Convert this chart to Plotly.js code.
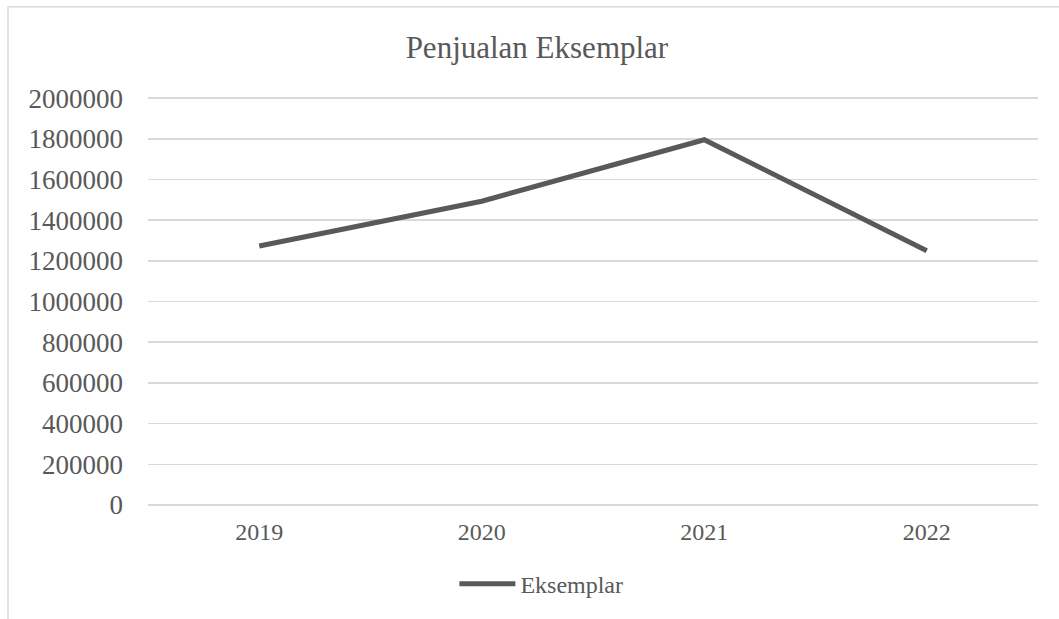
<!DOCTYPE html>
<html>
<head>
<meta charset="utf-8">
<script src="https://cdn.plot.ly/plotly-3.0.1.min.js"></script>
<style>
html,body{margin:0;padding:0;background:#fff;}
#chart{width:1059px;height:619px;}
</style>
</head>
<body>
<div id="chart"></div>
<script>
const years = ["2019", "2020", "2021", "2022"];
const eksemplar = [1273000, 1493000, 1795000, 1250000];
const yTicks = [0, 200000, 400000, 600000, 800000, 1000000, 1200000, 1400000, 1600000, 1800000, 2000000];
const seriesName = "Eksemplar";
const chartTitle = "Penjualan Eksemplar";

const grey = "#595959";
const grid = "#d9d9d9";
const serif = "Liberation Serif, Times New Roman, serif";

const trace = {
  type: "scatter",
  mode: "lines",
  x: years,
  y: eksemplar,
  name: seriesName,
  line: {color: grey, width: 5},
  showlegend: true
};

const layout = {
  width: 1059,
  height: 619,
  margin: {l: 148, r: 21, t: 95, b: 110},
  paper_bgcolor: "#fff",
  plot_bgcolor: "#fff",
  font: {family: serif, color: grey},
  title: {
    text: chartTitle,
    font: {family: serif, size: 31, color: grey},
    x: 0.507, xref: "container", xanchor: "center",
    y: 0.924, yref: "container", yanchor: "middle"
  },
  xaxis: {
    type: "category",
    range: [-0.5, 3.5],
    showgrid: false,
    showline: false,
    zeroline: false,
    ticks: "",
    tickfont: {family: serif, size: 24, color: grey},
    ticklabelstandoff: 10,
    fixedrange: true
  },
  yaxis: {
    range: [0, 2015000],
    tickvals: yTicks,
    ticktext: yTicks.map(v => String(v)),
    showgrid: true,
    gridcolor: grid,
    gridwidth: 1.5,
    zeroline: true,
    zerolinecolor: grid,
    zerolinewidth: 1.5,
    showline: false,
    ticks: "",
    tickfont: {family: serif, size: 27, color: grey},
    ticklabelstandoff: 24,
    fixedrange: true
  },
  legend: {
    orientation: "h",
    x: 0.442, xanchor: "center",
    y: -0.193, yanchor: "middle",
    font: {family: serif, size: 24, color: grey},
    itemwidth: 56
  },
  shapes: [{
    type: "rect", xref: "paper", yref: "paper",
    x0: -0.1573, x1: 1.2, y0: -0.6, y1: 1.215,
    line: {color: grid, width: 1.5},
    fillcolor: "rgba(0,0,0,0)",
    layer: "below"
  }]
};

Plotly.newPlot("chart", [trace], layout, {displayModeBar: false, staticPlot: true});
</script>
</body>
</html>
